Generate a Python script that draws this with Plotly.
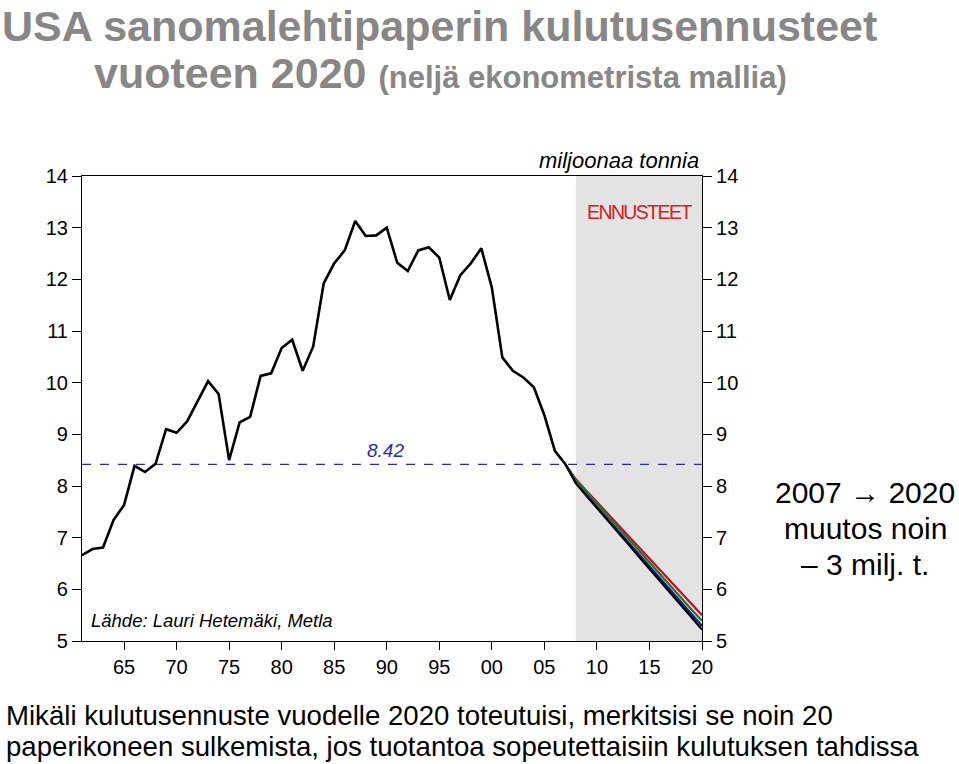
import plotly.graph_objects as go

# ---------------- data ----------------
hist_years = list(range(1961, 2008))
hist_values = [6.66, 6.78, 6.81, 7.34, 7.63, 8.39, 8.27, 8.43, 9.10, 9.03,
               9.25, 9.63, 10.03, 9.78, 8.50, 9.23, 9.34, 10.13, 10.18, 10.67,
               10.83, 10.23, 10.70, 11.92, 12.31, 12.56, 13.13, 12.84, 12.85, 13.00,
               12.32, 12.16, 12.56, 12.62, 12.42, 11.60, 12.08, 12.31, 12.60, 11.84,
               10.49, 10.23, 10.10, 9.91, 9.37, 8.68, 8.42]

fc_years = list(range(2007, 2021))
fc_red = [8.42, 8.13, 7.91, 7.69, 7.47, 7.25, 7.03, 6.81, 6.59, 6.37, 6.15, 5.93, 5.71, 5.50]
fc_green = [8.42, 8.12, 7.89, 7.66, 7.43, 7.20, 6.97, 6.75, 6.52, 6.29, 6.06, 5.83, 5.61, 5.39]
fc_blue = [8.42, 8.06, 7.83, 7.60, 7.38, 7.15, 6.92, 6.69, 6.46, 6.23, 6.00, 5.77, 5.53, 5.29]
fc_black = [8.42, 8.05, 7.81, 7.58, 7.34, 7.11, 6.87, 6.63, 6.40, 6.16, 5.93, 5.69, 5.46, 5.22]

ref_level = 8.42
forecast_start, forecast_end = 2008, 2020

x_tickvals = [1965, 1970, 1975, 1980, 1985, 1990, 1995, 2000, 2005, 2010, 2015, 2020]
x_ticktext = ["65", "70", "75", "80", "85", "90", "95", "00", "05", "10", "15", "20"]
y_tickvals = [5, 6, 7, 8, 9, 10, 11, 12, 13, 14]

note_lines = ["2007 → 2020", "muutos noin", "– 3 milj. t."]
bottom_lines = ["Mikäli kulutusennuste vuodelle 2020 toteutuisi, merkitsisi se noin 20",
                "paperikoneen sulkemista, jos tuotantoa sopeutettaisiin kulutuksen tahdissa"]

# ---------------- layout helpers ----------------
W, H = 959, 764
L, R, T, B = 82, 702, 176, 641


def px(x):
    return (x - L) / (R - L)


def py(y):
    return (B - y) / (B - T)


FONT = "Liberation Sans, Arial, sans-serif"

fig = go.Figure()

fig.add_trace(go.Scatter(x=hist_years, y=hist_values, mode="lines",
                         line=dict(color="black", width=2.6), showlegend=False,
                         hoverinfo="skip"))
for vals, col in [(fc_red, "#c8102e"), (fc_green, "#1f7a1f"),
                  (fc_blue, "#1a1a8c"), (fc_black, "#000000")]:
    fig.add_trace(go.Scatter(x=fc_years, y=vals, mode="lines",
                             line=dict(color=col, width=2.2), showlegend=False,
                             hoverinfo="skip"))
# invisible trace for the right axis
fig.add_trace(go.Scatter(x=[fc_years[0]], y=[fc_black[0]], yaxis="y2", mode="markers",
                         marker=dict(opacity=0), showlegend=False, hoverinfo="skip"))

fig.add_shape(type="rect", xref="x", yref="y", x0=forecast_start, x1=forecast_end,
              y0=5, y1=14, fillcolor="#e3e3e3", line=dict(width=0), layer="below")
fig.add_shape(type="line", xref="x", yref="y", x0=1961, x1=2020, y0=ref_level, y1=ref_level,
              line=dict(color="#2a2ab8", width=1.2, dash="dash"), layer="below")

axis_font = dict(family=FONT, size=20, color="black")
fig.update_layout(
    width=W, height=H,
    margin=dict(l=L, r=W - R, t=T, b=H - B, pad=0),
    paper_bgcolor="white", plot_bgcolor="white",
    xaxis=dict(range=[1961, 2020], tickvals=x_tickvals, ticktext=x_ticktext,
               ticks="outside", ticklen=8, tickwidth=1, tickcolor="black",
               showline=True, linecolor="black", linewidth=1.2, mirror=True,
               showgrid=False, zeroline=False, tickfont=axis_font),
    yaxis=dict(range=[5, 14], tickvals=y_tickvals, ticks="outside", ticklen=9,
               tickwidth=1, tickcolor="black", showline=True, linecolor="black",
               linewidth=1.2, showgrid=False, zeroline=False, tickfont=axis_font),
    yaxis2=dict(range=[5, 14], tickvals=y_tickvals, ticks="outside", ticklen=9,
                tickwidth=1, tickcolor="black", showline=True, linecolor="black",
                linewidth=1.2, showgrid=False, zeroline=False, tickfont=axis_font,
                overlaying="y", side="right"),
)

ann = []
gray = "#878787"
ann.append(dict(text="<b>USA sanomalehtipaperin kulutusennusteet</b>", x=px(0), y=py(26),
                xanchor="left", yanchor="middle", font=dict(family=FONT, size=43, color=gray)))
ann.append(dict(text="<b>vuoteen 2020 <span style='font-size:31px'>(neljä ekonometrista mallia)</span></b>",
                x=px(92), y=py(73), xanchor="left", yanchor="middle",
                font=dict(family=FONT, size=43, color=gray)))
ann.append(dict(text="<i>miljoonaa tonnia</i>", x=px(701), y=py(160), xanchor="right",
                yanchor="middle", font=dict(family=FONT, size=22, color="black")))
ann.append(dict(text="<span style='letter-spacing:-1.6px'>ENNUSTEET</span>", x=px(639), y=py(212),
                xanchor="center", yanchor="middle",
                font=dict(family=FONT, size=19.5, color="#d42020")))
ann.append(dict(text="<i>8.42</i>", x=px(385), y=py(450), xanchor="center", yanchor="middle",
                font=dict(family=FONT, size=19, color="#2a2ab8")))
ann.append(dict(text="<i>Lähde: Lauri Hetemäki, Metla</i>", x=px(89), y=py(620),
                xanchor="left", yanchor="middle", font=dict(family=FONT, size=18.5, color="black")))
for i, line in enumerate(note_lines):
    ann.append(dict(text=line, x=px(865), y=py(492 + 36 * i), xanchor="center",
                    yanchor="middle", font=dict(family=FONT, size=30, color="black")))
for i, line in enumerate(bottom_lines):
    ann.append(dict(text=line, x=px(4), y=py(715 + 31 * i), xanchor="left",
                    yanchor="middle", font=dict(family=FONT, size=27.6, color="black")))
for a in ann:
    a.update(xref="paper", yref="paper", showarrow=False)
fig.update_layout(annotations=ann)

fig.write_html("out.html")
